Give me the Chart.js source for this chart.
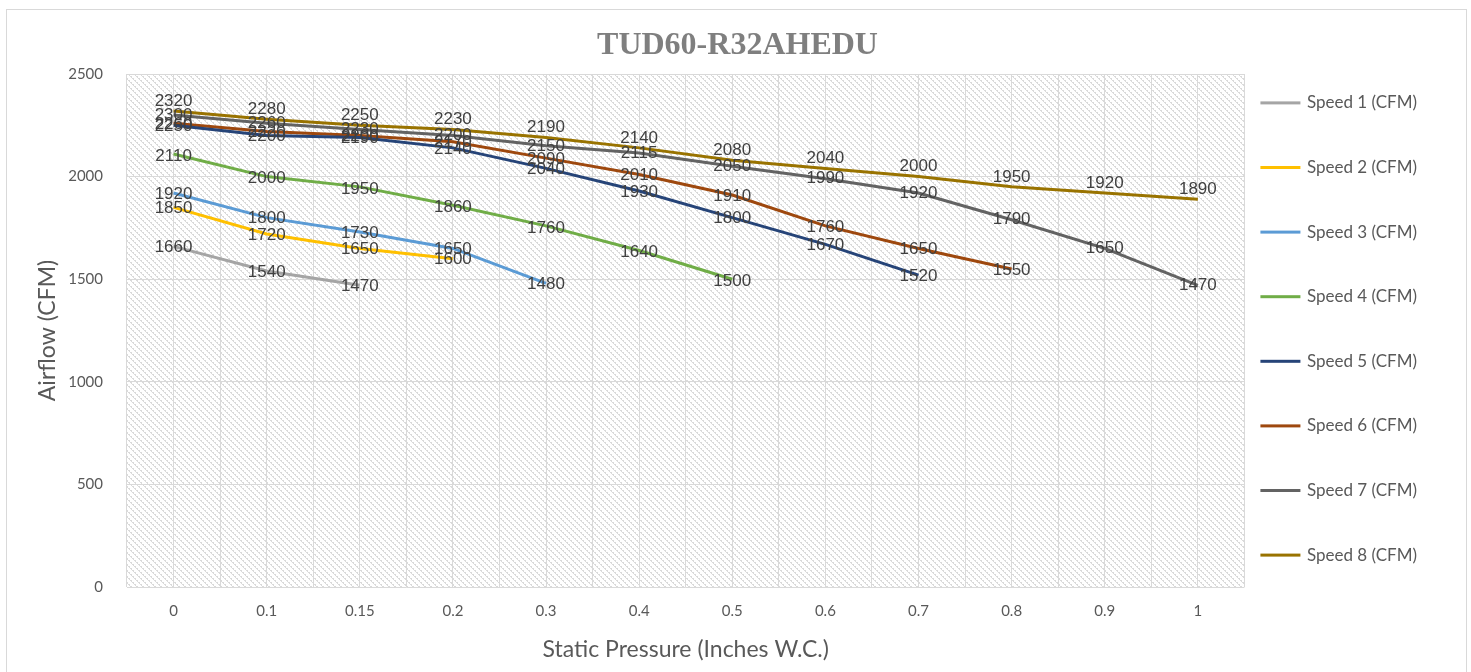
<!DOCTYPE html>
<html>
<head>
<meta charset="utf-8">
<script src="https://cdn.jsdelivr.net/npm/chart.js@4.4.0/dist/chart.umd.min.js"></script>
<style>
  html, body { margin: 0; padding: 0; background: #ffffff; overflow: hidden; }
  #frame { position: absolute; left: 6px; top: 9px; width: 1459px; height: 700px; border: 1px solid #d9d9d9; box-sizing: content-box; }
  #wrap { position: absolute; left: 0; top: 0; width: 1471px; height: 672px; }
</style>
</head>
<body>
<div id="frame"></div>
<div id="wrap"><canvas id="c"></canvas></div>
<script>
const categories = ['0', '0.1', '0.15', '0.2', '0.3', '0.4', '0.5', '0.6', '0.7', '0.8', '0.9', '1'];
const speed1 = [1660, 1540, 1470];
const speed2 = [1850, 1720, 1650, 1600];
const speed3 = [1920, 1800, 1730, 1650, 1480];
const speed4 = [2110, 2000, 1950, 1860, 1760, 1640, 1500];
const speed5 = [2250, 2200, 2190, 2140, 2040, 1930, 1800, 1670, 1520];
const speed6 = [2260, 2220, 2200, 2170, 2090, 2010, 1910, 1760, 1650, 1550];
const speed7 = [2300, 2260, 2230, 2200, 2150, 2115, 2050, 1990, 1920, 1790, 1650, 1470];
const speed8 = [2320, 2280, 2250, 2230, 2190, 2140, 2080, 2040, 2000, 1950, 1920, 1890];
const seriesNames = ['Speed 1 (CFM)', 'Speed 2 (CFM)', 'Speed 3 (CFM)', 'Speed 4 (CFM)', 'Speed 5 (CFM)', 'Speed 6 (CFM)', 'Speed 7 (CFM)', 'Speed 8 (CFM)'];
const yTicks = [0, 500, 1000, 1500, 2000, 2500];

const seriesValues = [speed1, speed2, speed3, speed4, speed5, speed6, speed7, speed8];
const seriesColors = ['#A5A5A5', '#FFC000', '#5B9BD5', '#70AD47', '#264478', '#9E480E', '#636363', '#997300'];
const labelShift = [1, 1, 1, 2, 1, 1, 0, -10];

function makeHatch() {
  const t = document.createElement('canvas');
  t.width = 6; t.height = 6;
  const g = t.getContext('2d');
  g.fillStyle = '#ffffff';
  g.fillRect(0, 0, 6, 6);
  g.fillStyle = '#dadada';
  for (let i = 0; i < 6; i++) {
    g.fillRect(i, i, 1, 1);
    if (i % 2 === 0) g.fillRect((i + 1) % 6, i, 1, 1);
  }
  return t;
}

const hatchPlugin = {
  id: 'hatch',
  beforeDraw(chart) {
    const {ctx, chartArea: a} = chart;
    ctx.save();
    ctx.fillStyle = ctx.createPattern(makeHatch(), 'repeat');
    ctx.fillRect(a.left, a.top, a.right - a.left, a.bottom - a.top);
    ctx.restore();
  }
};

const valueLabels = {
  id: 'valueLabels',
  afterDatasetsDraw(chart) {
    const ctx = chart.ctx;
    ctx.save();
    ctx.font = '17px "Liberation Sans", Arial, sans-serif';
    ctx.fillStyle = '#404040';
    ctx.textAlign = 'center';
    ctx.textBaseline = 'middle';
    chart.data.datasets.forEach((ds, di) => {
      const meta = chart.getDatasetMeta(di);
      meta.data.forEach((pt, i) => {
        ctx.fillText(String(ds.data[i]), pt.x, pt.y + labelShift[di]);
      });
    });
    ctx.restore();
  }
};

const legendLines = {
  id: 'legendLines',
  afterDraw(chart) {
    const lg = chart.legend;
    if (!lg || !lg.legendHitBoxes) return;
    const ctx = chart.ctx;
    ctx.save();
    lg.legendHitBoxes.forEach((hb, i) => {
      ctx.fillStyle = seriesColors[i];
      ctx.fillRect(hb.left, hb.top + hb.height / 2 - 1.5, 40, 3);
    });
    ctx.restore();
  }
};

const datasets = seriesValues.map((vals, i) => ({
  label: seriesNames[i],
  data: vals,
  borderColor: seriesColors[i],
  backgroundColor: seriesColors[i],
  borderWidth: 3,
  pointRadius: 0,
  tension: 0,
  fill: false,
  xAxisID: 'x',
  yAxisID: 'y'
}));

new Chart(document.getElementById('c'), {
  type: 'line',
  data: { labels: categories, datasets },
  plugins: [hatchPlugin, valueLabels, legendLines],
  options: {
    responsive: true,
    maintainAspectRatio: false,
    animation: false,
    layout: { padding: { left: 48, right: 44, top: 0, bottom: 14 } },
    plugins: {
      tooltip: { enabled: false },
      title: {
        display: true,
        text: 'TUD60-R32AHEDU',
        color: '#7f7f7f',
        font: { family: '"Liberation Serif", "Times New Roman", serif', size: 32, weight: 'bold' },
        padding: { top: 27, bottom: 8.6 }
      },
      legend: {
        position: 'right',
        fullSize: true,
        labels: {
          boxWidth: 38,
          boxHeight: 48.6,
          padding: 16,
          color: '#595959',
          font: { family: 'Lato', size: 17 },
          generateLabels(chart) {
            return chart.data.datasets.map((ds, i) => ({
              text: ds.label,
              fillStyle: 'rgba(0,0,0,0)',
              strokeStyle: 'rgba(0,0,0,0)',
              lineWidth: 0,
              fontColor: '#595959',
              hidden: false,
              datasetIndex: i
            }));
          }
        }
      }
    },
    scales: {
      x: {
        type: 'category',
        offset: true,
        grid: { offset: true, color: '#d9d9d9', lineWidth: 1, drawTicks: false },
        border: { display: false },
        ticks: { color: '#595959', font: { family: 'Lato', size: 15 }, padding: 15, maxRotation: 0 },
        title: {
          display: true,
          text: 'Static Pressure (Inches W.C.)',
          color: '#595959',
          font: { family: 'Lato', size: 23 },
          padding: { top: 1.2, bottom: -5.8 }
        }
      },
      x2: {
        type: 'category',
        labels: categories,
        position: 'bottom',
        offset: true,
        grid: { offset: false, color: '#d9d9d9', lineWidth: 1, drawTicks: false },
        border: { display: false },
        ticks: { display: false }
      },
      y: {
        min: 0,
        max: 2500,
        afterBuildTicks(axis) { axis.ticks = yTicks.map(v => ({ value: v })); },
        grid: { color: '#d9d9d9', lineWidth: 1, drawTicks: false },
        border: { display: false },
        ticks: { color: '#595959', font: { family: 'Lato', size: 15 }, padding: 24, callback: v => String(v) },
        title: {
          display: true,
          text: 'Airflow (CFM)',
          color: '#595959',
          font: { family: 'Lato', size: 23 },
          padding: { top: -13.8, bottom: -17.6 }
        }
      }
    }
  }
});
</script>
</body>
</html>
